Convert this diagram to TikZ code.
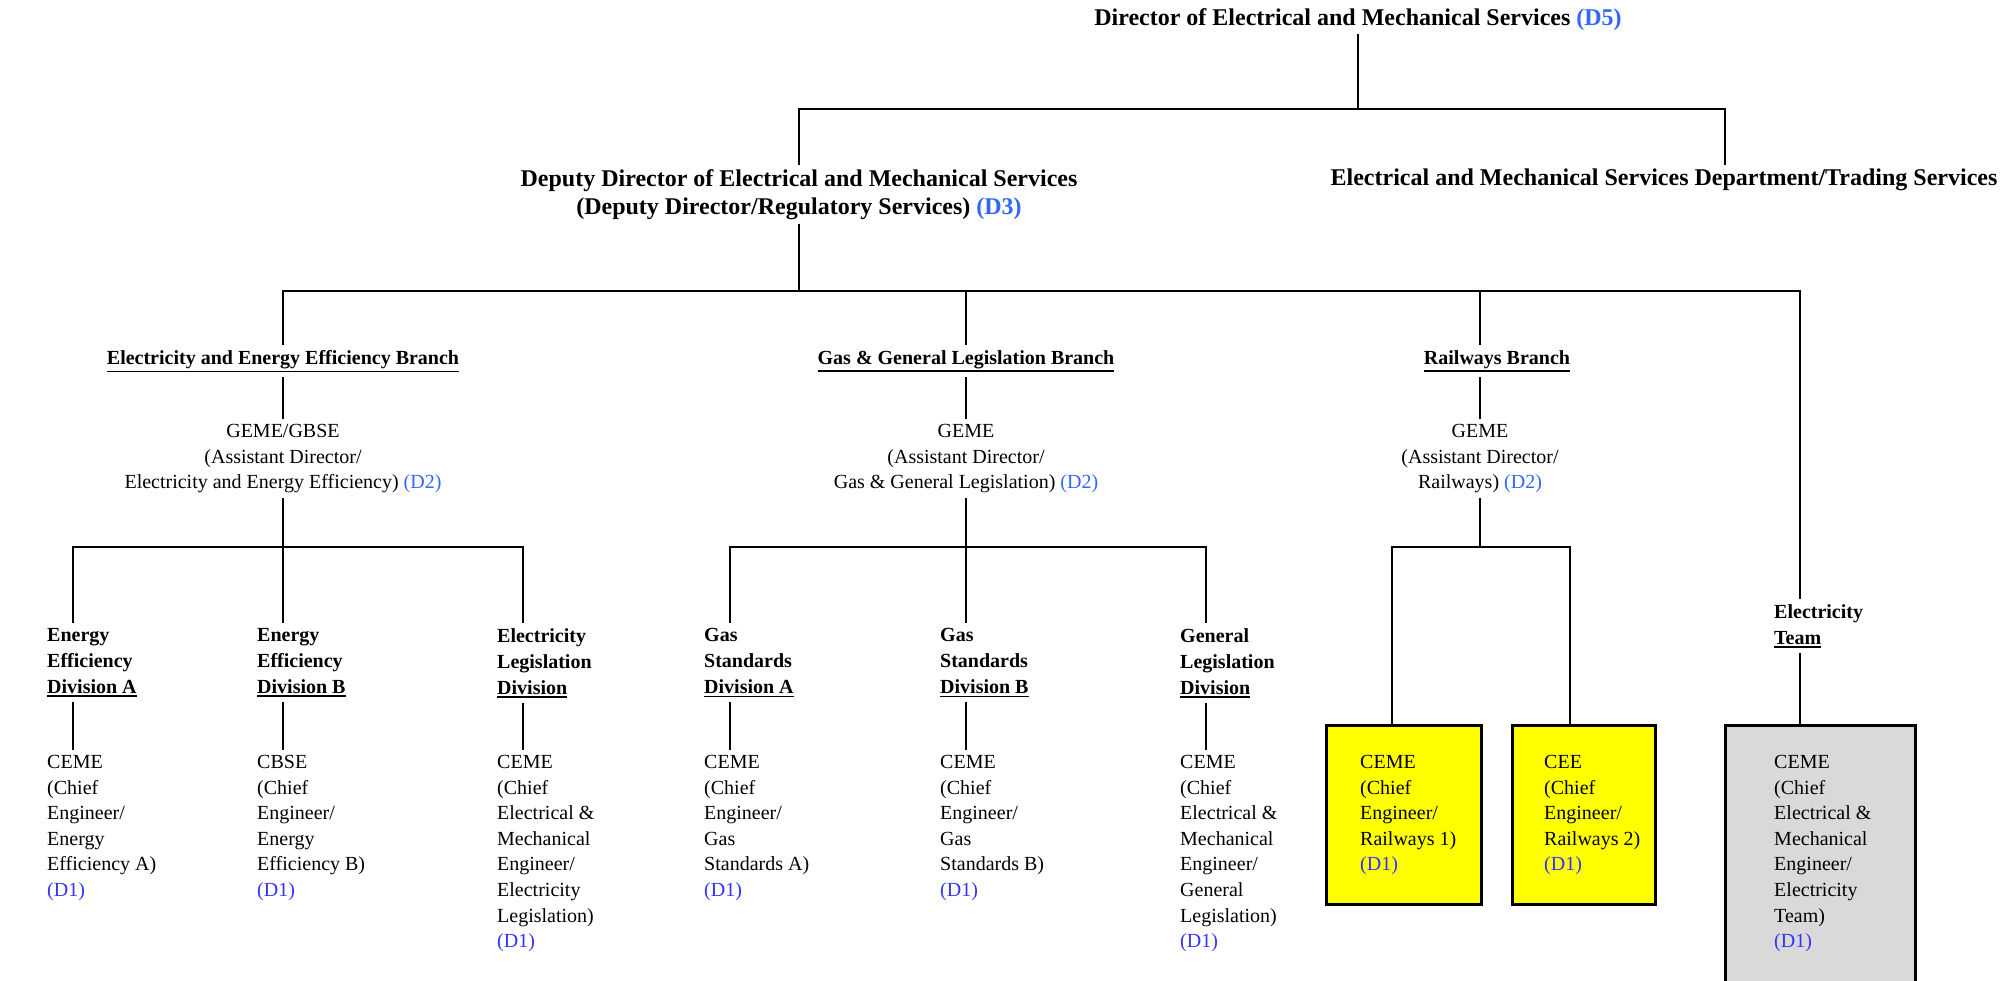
\documentclass[tikz,border=0pt]{standalone}
\usepackage{xcolor}
\usepackage{fontspec}
\usepackage{tikz}
\usetikzlibrary{positioning, calc}
\setmainfont{Liberation Serif}

\definecolor{gradeblue}{HTML}{3366FF}
\definecolor{staffblue}{HTML}{3333FF}
\definecolor{railyellow}{HTML}{FFFF00}
\definecolor{teamgrey}{HTML}{D9D9D9}

\newcommand{\grd}[1]{\textcolor{gradeblue}{#1}}
\newcommand{\sgrd}[1]{\textcolor{staffblue}{#1}}
\newcommand{\undl}[1]{\leavevmode\vtop{\hbox{#1}\kern2pt\hrule height 1.6pt}}

\begin{document}
\begin{tikzpicture}[
    x=1pt, y=-1pt,
    conn/.style={line width=2.6pt, draw=black},
    toptitle/.style={anchor=north, align=center, inner xsep=0pt, inner ysep=4pt, font=\bfseries\fontsize{24}{28}\selectfont},
    branch/.style={anchor=north, align=center, inner xsep=0pt, inner ysep=5pt, font=\bfseries\fontsize{20}{26}\selectfont},
    post/.style={anchor=north, align=center, inner xsep=0pt, inner ysep=5pt, font=\fontsize{20}{25.6}\selectfont},
    divtitle/.style={anchor=north west, align=left, inner xsep=0pt, inner ysep=5pt, font=\bfseries\fontsize{20}{26}\selectfont},
    staff/.style={anchor=north west, align=left, inner xsep=0pt, inner ysep=5pt, font=\fontsize{20}{25.6}\selectfont},
    postbox/.style={rectangle, draw, line width=3pt, anchor=north west, inner sep=0pt, minimum height=179pt, fill=#1}
]
\useasboundingbox (0,0) rectangle (2013,981);

% ===== DIRECTORATE =====
\node[toptitle] (dir) at (1358, 4) {Director of Electrical and Mechanical Services \grd{(D5)}};
\node[toptitle] (dep) at (799, 165) {Deputy Director of Electrical and Mechanical Services\\(Deputy Director/Regulatory Services) \grd{(D3)}};
\node[toptitle] (trade) at (1664, 165) {Electrical and Mechanical Services Department/Trading Services};

\coordinate (dirbus) at (1358, 109);
\draw[conn] (dir.south) -- (dirbus);
\draw[conn] (dirbus) -| (dep.north);
\draw[conn] (dirbus) -| ([xshift=61pt]trade.north);

% ===== BRANCHES =====
\node[branch] (eeb) at (283, 345) {\undl{Electricity and Energy Efficiency Branch}};
\node[branch] (ggb) at (966, 345) {\undl{Gas \& General Legislation Branch}};
\node[branch] (rwb) at (1497, 345) {\undl{Railways Branch}};
\node[divtitle] (elteam) at (1774, 599) {Electricity\\\undl{Team}};

\coordinate (depbus) at (799, 291);
\draw[conn] (dep.south) -- (depbus);
\draw[conn] (depbus) -| (eeb.north);
\draw[conn] (depbus) -| (ggb.north);
\draw[conn] (depbus) -| ([xshift=-17pt]rwb.north);
\draw[conn] (depbus) -| ([xshift=26pt]elteam.north west);

% ===== ASSISTANT DIRECTORS =====
\node[post] (eegeme) at (283, 419) {GEME/GBSE\\(Assistant Director/\\Electricity and Energy Efficiency) \grd{(D2)}};
\node[post] (gggeme) at (966, 419) {GEME\\(Assistant Director/\\Gas \& General Legislation) \grd{(D2)}};
\node[post] (rwgeme) at (1480, 419) {GEME\\(Assistant Director/\\Railways) \grd{(D2)}};

\draw[conn] (eeb.south) -- (eegeme.north);
\draw[conn] (ggb.south) -- (gggeme.north);
\draw[conn] ([xshift=-17pt]rwb.south) -- (rwgeme.north);

% ===== DIVISIONS =====
\node[divtitle] (eediva) at (47, 623) {Energy\\Efficiency\\\undl{Division A}};
\node[divtitle] (eedivb) at (257, 623) {Energy\\Efficiency\\\undl{Division B}};
\node[divtitle] (eldiv) at (497, 623) {Electricity\\Legislation\\\undl{Division}};
\node[divtitle] (gsdiva) at (704, 623) {Gas\\Standards\\\undl{Division A}};
\node[divtitle] (gsdivb) at (940, 623) {Gas\\Standards\\\undl{Division B}};
\node[divtitle] (gldiv) at (1180, 623) {General\\Legislation\\\undl{Division}};

\coordinate (eebus) at (283, 547);
\coordinate (ggbus) at (966, 547);
\coordinate (rwbus) at (1480, 547);
\draw[conn] (eegeme.south) -- (eebus);
\draw[conn] (gggeme.south) -- (ggbus);
\draw[conn] (rwgeme.south) -- (rwbus);
\draw[conn] (eebus) -| ([xshift=26pt]eediva.north west);
\draw[conn] (eebus) -| ([xshift=26pt]eedivb.north west);
\draw[conn] (eebus) -| ([xshift=26pt]eldiv.north west);
\draw[conn] (ggbus) -| ([xshift=26pt]gsdiva.north west);
\draw[conn] (ggbus) -| ([xshift=26pt]gsdivb.north west);
\draw[conn] (ggbus) -| ([xshift=26pt]gldiv.north west);

% ===== CHIEF ENGINEERS =====
\node[staff] (ceeea) at (47, 750) {CEME\\(Chief\\Engineer/\\Energy\\Efficiency A)\\\sgrd{(D1)}};
\node[staff] (ceeeb) at (257, 750) {CBSE\\(Chief\\Engineer/\\Energy\\Efficiency B)\\\sgrd{(D1)}};
\node[staff] (ceel) at (497, 750) {CEME\\(Chief\\Electrical \&\\Mechanical\\Engineer/\\Electricity\\Legislation)\\\sgrd{(D1)}};
\node[staff] (cegsa) at (704, 750) {CEME\\(Chief\\Engineer/\\Gas\\Standards A)\\\sgrd{(D1)}};
\node[staff] (cegsb) at (940, 750) {CEME\\(Chief\\Engineer/\\Gas\\Standards B)\\\sgrd{(D1)}};
\node[staff] (cegl) at (1180, 750) {CEME\\(Chief\\Electrical \&\\Mechanical\\Engineer/\\General\\Legislation)\\\sgrd{(D1)}};

\foreach \d/\c in {eediva/ceeea, eedivb/ceeeb, eldiv/ceel, gsdiva/cegsa, gsdivb/cegsb, gldiv/cegl}
    \draw[conn] ([xshift=26pt]\d.south west) -- ([xshift=26pt]\c.north west);

% ===== RAILWAYS AND ELECTRICITY TEAM POSTS =====
\node[postbox=railyellow, minimum width=155pt] (rw1box) at (1325, 724) {};
\node[postbox=railyellow, minimum width=143pt] (rw2box) at (1511, 724) {};
\node[postbox=teamgrey, minimum width=190pt, minimum height=280pt] (etbox) at (1724, 724) {};

\node[staff] (cerw1) at (1360, 750) {CEME\\(Chief\\Engineer/\\Railways 1)\\\sgrd{(D1)}};
\node[staff] (cerw2) at (1544, 750) {CEE\\(Chief\\Engineer/\\Railways 2)\\\sgrd{(D1)}};
\node[staff] (ceet) at (1774, 750) {CEME\\(Chief\\Electrical \&\\Mechanical\\Engineer/\\Electricity\\Team)\\\sgrd{(D1)}};

\draw[conn] (rwbus) -| ([xshift=-12pt]rw1box.north);
\draw[conn] (rwbus) -| ([xshift=-14pt]rw2box.north);
\draw[conn] ([xshift=26pt]elteam.south west) -- ([xshift=26pt]elteam.south west |- etbox.north);

\end{tikzpicture}
\end{document}
